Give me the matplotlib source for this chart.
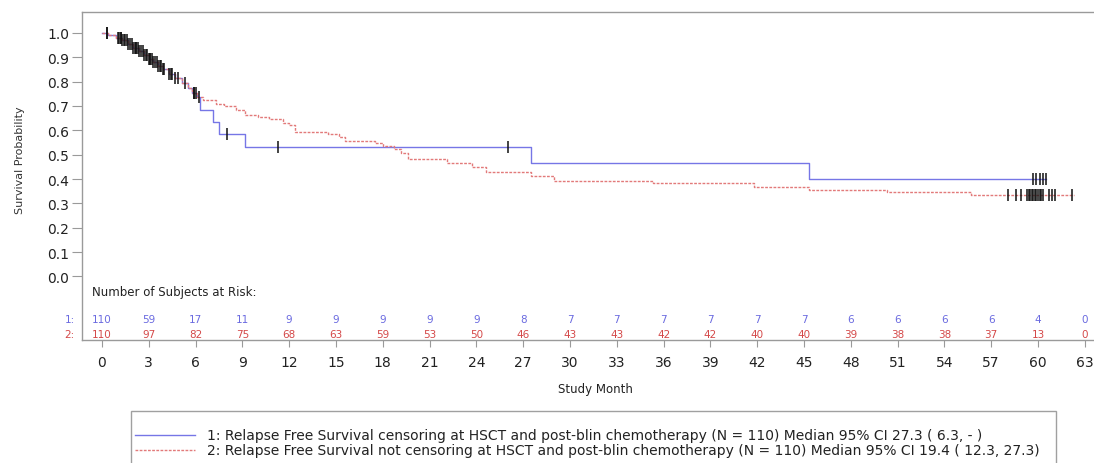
import numpy as np
import matplotlib
matplotlib.use('Agg')
import matplotlib.pyplot as plt
from matplotlib.patches import Rectangle
from matplotlib.lines import Line2D

# Kaplan-Meier step data (month, survival after step)
early_t = [0.4, 0.9, 1.3, 1.7, 2.0, 2.4, 2.7, 3.0, 3.3, 3.6, 3.9, 4.3, 4.7, 5.1, 5.5, 5.8, 6.1]
early_s = [0.99, 0.98, 0.97, 0.955, 0.94, 0.925, 0.91, 0.895, 0.88, 0.865, 0.85, 0.83,
           0.815, 0.795, 0.775, 0.755, 0.735]

g1_t = [0.0] + early_t + [6.3, 7.1, 7.5, 9.2, 27.5, 45.3]
g1_s = [1.0] + early_s + [0.685, 0.633, 0.585, 0.533, 0.466, 0.40]
g1_end = 60.5

g2_t = [0.0] + early_t + [6.5, 7.3, 7.8, 8.6, 9.2, 10.0, 10.7, 11.6, 12.0, 12.4, 14.5,
                          15.2, 15.6, 17.5, 18.0, 18.7, 19.2, 19.6, 22.1, 23.7, 24.6,
                          27.5, 29.0, 35.3, 41.8, 45.3, 50.3, 55.7]
g2_s = [1.0] + early_s + [0.725, 0.71, 0.70, 0.685, 0.665, 0.655, 0.645, 0.632, 0.62,
                          0.595, 0.585, 0.572, 0.558, 0.55, 0.537, 0.525, 0.505, 0.483,
                          0.466, 0.448, 0.428, 0.414, 0.393, 0.384, 0.366, 0.356, 0.348,
                          0.335]
g2_end = 62.3

# censored observations (months)
g1_cens = [0.3, 1.0, 1.1, 1.2, 1.3, 1.4, 1.5, 1.6, 1.7, 1.8, 1.9, 2.0, 2.1, 2.2, 2.3,
           2.4, 2.5, 2.6, 2.7, 2.8, 2.9, 3.0, 3.1, 3.2, 3.3, 3.4, 3.5, 3.6, 3.7, 3.8,
           3.9, 4.0, 4.3, 4.5, 4.7, 4.9, 5.3, 5.9, 6.0, 6.2, 8.0, 11.3, 26.0,
           59.7, 59.9, 60.1, 60.3, 60.5]
g2_cens = [0.3, 1.2, 2.2, 3.1, 4.4, 5.9, 58.1, 58.6, 58.9, 59.3, 59.4, 59.5, 59.6,
           59.7, 59.8, 59.9, 60.0, 60.1, 60.2, 60.3, 60.7, 60.9, 61.1, 62.2]

risk_months = list(range(0, 64, 3))
risk_1 = [110, 59, 17, 11, 9, 9, 9, 9, 9, 8, 7, 7, 7, 7, 7, 7, 6, 6, 6, 6, 4, 0]
risk_2 = [110, 97, 82, 75, 68, 63, 59, 53, 50, 46, 43, 43, 42, 42, 40, 40, 39, 38, 38, 37, 13, 0]

legend_1 = "1: Relapse Free Survival censoring at HSCT and post-blin chemotherapy (N = 110) Median 95% CI 27.3 ( 6.3, - )"
legend_2 = "2: Relapse Free Survival not censoring at HSCT and post-blin chemotherapy (N = 110) Median 95% CI 19.4 ( 12.3, 27.3)"

BLUE = '#7676e6'
RED = '#e27a7a'
BLUE_TXT = '#6a6ae0'
RED_TXT = '#d44848'


def surv_at(t, times, surv):
    i = np.searchsorted(times, t, side='right') - 1
    return np.asarray(surv)[i]


fig = plt.figure(figsize=(10.94, 4.64), dpi=100)
ax = fig.add_axes([82 / 1094, 1 - 341 / 464, (1096 - 82) / 1094, (341 - 13) / 464])

for times, surv, end, col, ls in [(g1_t, g1_s, g1_end, BLUE, '-'),
                                  (g2_t, g2_s, g2_end, RED, (0, (2, 1)))]:
    xs = list(times) + [end]
    ys = list(surv) + [surv[-1]]
    ax.step(xs, ys, where='post', color=col, lw=1.0, ls=ls)

for cens, times, surv in [(g1_cens, g1_t, g1_s), (g2_cens, g2_t, g2_s)]:
    cy = [surv_at(c, times, surv) for c in cens]
    ax.plot(cens, cy, ls='none', marker='|', ms=9, mew=1.1, color='#111111')

ax.set_xlim(-1.28, 63.72)
ax.set_ylim(-0.261, 1.086)
ax.set_yticks(np.arange(0, 1.01, 0.1))
ax.set_yticklabels(['%.1f' % v for v in np.arange(0, 1.01, 0.1)])
ax.set_xticks(risk_months)

for s in ax.spines.values():
    s.set_color('#9a9a9a')
    s.set_linewidth(1.0)
ax.tick_params(axis='y', length=7, color='#9a9a9a', labelsize=10, labelcolor='#222222', pad=2)
ax.tick_params(axis='x', length=5, color='#9a9a9a', labelsize=10, labelcolor='#222222', pad=6)

# at-risk table inside the axes
ax.text(-0.64, -0.062, 'Number of Subjects at Risk:', fontsize=8.5, color='#222222',
        ha='left', va='center')
for m, n1, n2 in zip(risk_months, risk_1, risk_2):
    ax.text(m, -0.175, str(n1), color=BLUE_TXT, fontsize=7.5, ha='center', va='center')
    ax.text(m, -0.236, str(n2), color=RED_TXT, fontsize=7.5, ha='center', va='center')
ax.text(-1.75, -0.175, '1:', color=BLUE_TXT, fontsize=7.5, ha='right', va='center', clip_on=False)
ax.text(-1.75, -0.236, '2:', color=RED_TXT, fontsize=7.5, ha='right', va='center', clip_on=False)

fig.text(20 / 1094, 1 - 160 / 464, 'Survival Probability', rotation=90, fontsize=8,
         color='#333333', ha='center', va='center')
fig.text(595 / 1094, 1 - 390 / 464, 'Study Month', fontsize=8.5, color='#222222',
         ha='center', va='center')

# legend box (cut off at the bottom as in the source)
fig.patches.append(Rectangle((131 / 1094, -0.05), (1056 - 131) / 1094, 0.05 + 1 - 411.7 / 464,
                             transform=fig.transFigure, fill=False, edgecolor='#a0a0a0', lw=1.0))
for yy, col, ls, txt in [(436, BLUE, '-', legend_1), (451, RED, (0, (2, 1)), legend_2)]:
    fy = 1 - yy / 464
    fig.lines.append(Line2D([135 / 1094, 195 / 1094], [fy, fy], transform=fig.transFigure,
                            color=col, lw=1.0, ls=ls))
    fig.text(207 / 1094, fy, txt, fontsize=10, color='#222222', ha='left', va='center')

fig.savefig('out.png', dpi=100)
